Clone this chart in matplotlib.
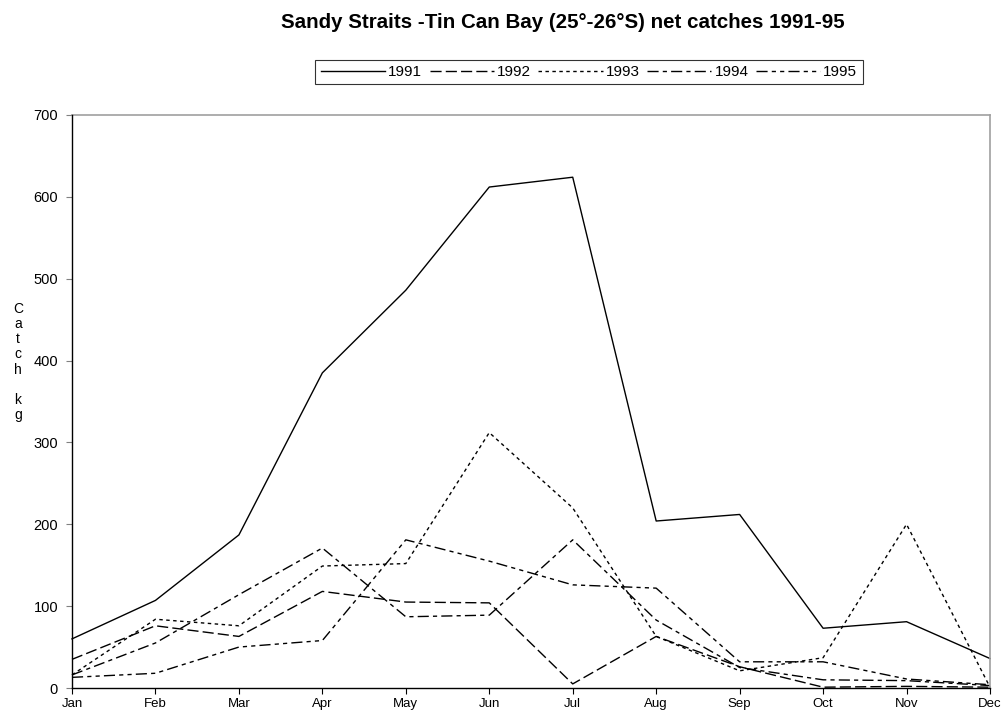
import matplotlib
matplotlib.use("Agg")
import matplotlib.pyplot as plt

months = ["Jan", "Feb", "Mar", "Apr", "May", "Jun", "Jul", "Aug", "Sep", "Oct", "Nov", "Dec"]
c1991 = [60, 107, 187, 385, 486, 612, 624, 204, 212, 73, 81, 36]
c1992 = [35, 76, 63, 118, 105, 104, 5, 63, 26, 1, 2, 1]
c1993 = [16, 84, 76, 149, 152, 312, 220, 63, 21, 37, 200, 1]
c1994 = [16, 55, 114, 171, 87, 89, 181, 83, 25, 10, 9, 3]
c1995 = [13, 18, 50, 58, 181, 155, 126, 122, 32, 32, 11, 4]
years = ["1991", "1992", "1993", "1994", "1995"]

plt.rcParams['font.family'] = ['Liberation Sans', 'DejaVu Sans']

fig = plt.figure(figsize=(10.07, 7.18), dpi=100)
ax = fig.add_axes([72/1007, 1-688/718, (990-72)/1007, (688-115)/718])

x = list(range(len(months)))
dashes = [
    '-',
    (0, (8, 3)),
    (0, (2.5, 2.5)),
    (0, (8, 3, 3, 3)),
    (0, (8, 3, 3, 3, 3, 3)),
]
series = [c1991, c1992, c1993, c1994, c1995]
handles = []
for ls, vals, yr in zip(dashes, series, years):
    h, = ax.plot(x, vals, color='black', linewidth=1.0, linestyle=ls, label=yr)
    h.set_clip_on(False)
    handles.append(h)

ax.set_xlim(0, 11)
ax.set_ylim(0, 700)
ax.set_yticks(range(0, 701, 100))
ax.set_xticks(x)
ax.set_xticklabels(months, fontsize=9.5)
ax.tick_params(axis='y', labelsize=10.5, length=4, width=0.8, color='#808080', pad=6)
ax.tick_params(axis='x', length=4, width=0.8, pad=3)
for s in ['left', 'bottom']:
    ax.spines[s].set_color('black')
    ax.spines[s].set_linewidth(1.0)
    ax.spines[s].set_zorder(5)
for s in ['top', 'right']:
    ax.spines[s].set_color('#a0a0a0')
    ax.spines[s].set_linewidth(1.2)

fig.text(563/1007, 1-22/718, "Sandy Straits -Tin Can Bay (25\u00b0-26\u00b0S) net catches 1991-95",
         ha='center', va='center', fontsize=14.8, fontweight='bold')

fig.text(18/1007, 1-362/718, "C\na\nt\nc\nh\n\nk\ng", ha='center', va='center',
         fontsize=10, linespacing=1.1)

leg = fig.legend(handles=handles, loc='center', bbox_to_anchor=(589/1007, 1-72/718),
                 ncol=5, frameon=True, fancybox=False, edgecolor='black',
                 fontsize=11, handlelength=4.2, handletextpad=0.2, columnspacing=0.5,
                 borderpad=0.35)
leg.get_frame().set_linewidth(0.8)

fig.savefig("out.png", dpi=100)
